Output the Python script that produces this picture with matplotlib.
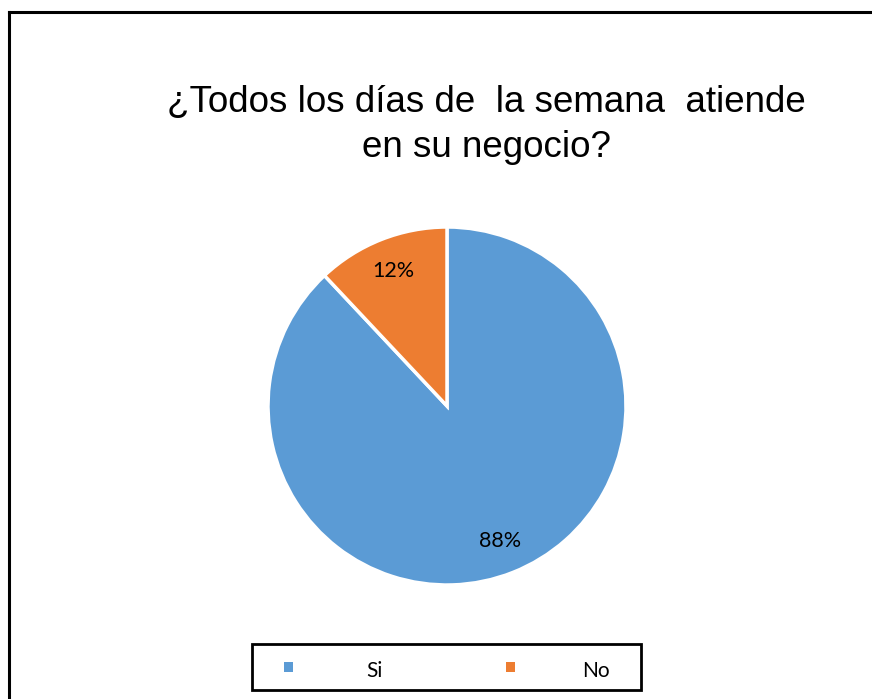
import matplotlib
matplotlib.use("Agg")
import matplotlib.pyplot as plt
from matplotlib.patches import Rectangle
from matplotlib.lines import Line2D

categories = ["Si", "No"]
values = [88, 12]
colors = ["#5B9BD5", "#ED7D31"]
title_lines = ["¿Todos los días de  la semana  atiende", "en su negocio?"]

W, H = 872, 699
fig = plt.figure(figsize=(W / 100, H / 100), dpi=100)
fig.patch.set_facecolor("white")

def fx(px):
    return px / W

def fy(py):
    return 1 - py / H

# pie axes: center (447, 406), radius 179
cx, cy, r = 447, 406, 179
ax = fig.add_axes([fx(cx - r), fy(cy + r), 2 * r / W, 2 * r / H])
wedges, texts, autotexts = ax.pie(
    values, colors=colors, startangle=90, counterclock=False,
    autopct=lambda p: f"{p:.0f}%", pctdistance=0.81,
    wedgeprops=dict(edgecolor="white", linewidth=2.5),
    textprops=dict(fontsize=15.5, family=["Lato", "DejaVu Sans"], color="black"),
    radius=1.0)
ax.set_xlim(-1, 1)
ax.set_ylim(-1, 1)
ax.set_aspect("equal")
ax.axis("off")

# title (two lines, baselines at 112 and 157 px)
for line, base in zip(title_lines, [112, 157]):
    fig.text(fx(486), fy(base), line, ha="center", va="baseline", fontsize=26.5,
             family=["Liberation Sans", "DejaVu Sans"], color="black")

# frame (partially cropped)
fig.add_artist(Line2D([fx(9), fx(872)], [fy(11.5), fy(11.5)], color="black", lw=2.2,
                      transform=fig.transFigure))
fig.add_artist(Line2D([fx(9), fx(9)], [fy(11.5), fy(699)], color="black", lw=2.2,
                      transform=fig.transFigure))

# legend
fig.add_artist(Rectangle((fx(252), fy(690)), fx(641) - fx(252), fy(644) - fy(690),
                         transform=fig.transFigure, facecolor="white",
                         edgecolor="black", lw=2))
marker_x = [288.5, 510]
text_x = [374.5, 596]
for name, col, mx, tx in zip(categories, colors, marker_x, text_x):
    fig.add_artist(Rectangle((fx(mx - 4.5), fy(671.5)), 9 / W, 9.5 / H,
                             transform=fig.transFigure, facecolor=col, edgecolor="none"))
    fig.text(fx(tx), fy(671), name, ha="center", va="center", fontsize=15,
             family=["Lato", "DejaVu Sans"])

fig.savefig("out.png", dpi=100)
